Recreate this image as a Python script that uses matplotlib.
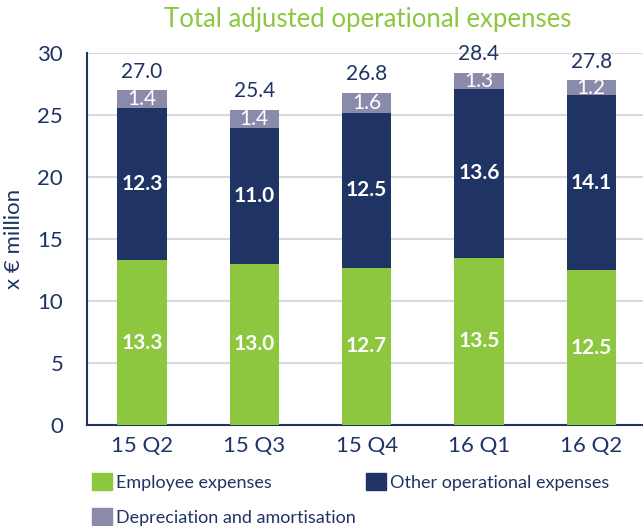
import matplotlib
matplotlib.use("Agg")
import matplotlib.pyplot as plt
from matplotlib.patches import Patch
import numpy as np

plt.rcParams['font.family'] = ['Lato', 'DejaVu Sans']

quarters = ["15 Q2", "15 Q3", "15 Q4", "16 Q1", "16 Q2"]
employee = [13.3, 13.0, 12.7, 13.5, 12.5]
other_opex = [12.3, 11.0, 12.5, 13.6, 14.1]
depreciation = [1.4, 1.4, 1.6, 1.3, 1.2]
totals = [27.0, 25.4, 26.8, 28.4, 27.8]

GREEN = "#8dc63f"
NAVY = "#1f3464"
GREY = "#8a8aaa"
GRID = "#d8d8e0"

fig = plt.figure(figsize=(6.43, 5.26), dpi=100)
ax = fig.add_axes([0.135, 0.192, 0.865, 0.707])

x = np.arange(len(quarters))
w = 0.44
emp = np.array(employee)
oth = np.array(other_opex)
dep = np.array(depreciation)

ax.bar(x, emp, w, color=GREEN, zorder=3)
ax.bar(x, oth, w, bottom=emp, color=NAVY, zorder=3)
ax.bar(x, dep, w, bottom=emp + oth, color=GREY, zorder=3)

for i in range(len(x)):
    ax.text(x[i], emp[i] / 2, f"{emp[i]:.1f}", ha="center", va="center",
            color="white", fontsize=15, fontweight="bold", zorder=4)
    ax.text(x[i], emp[i] + oth[i] / 2, f"{oth[i]:.1f}", ha="center", va="center",
            color="white", fontsize=15, fontweight="bold", zorder=4)
    ax.text(x[i], emp[i] + oth[i] + dep[i] / 2, f"{dep[i]:.1f}", ha="center", va="center",
            color="white", fontsize=15, zorder=4)
    ax.text(x[i], emp[i] + oth[i] + dep[i] + 0.7, f"{totals[i]:.1f}", ha="center", va="bottom",
            color=NAVY, fontsize=15, zorder=4)

ax.set_xlim(-0.49, 4.46)
ax.set_ylim(0, 30)
ax.set_yticks(range(0, 31, 5))
ax.set_xticks(x)
ax.set_xticklabels(quarters)
ax.yaxis.grid(True, color=GRID, linewidth=1.5, zorder=0)
ax.set_axisbelow(True)
for s in ["top", "right"]:
    ax.spines[s].set_visible(False)
for s in ["left", "bottom"]:
    ax.spines[s].set_color(NAVY)
    ax.spines[s].set_linewidth(1.5)
ax.tick_params(axis="both", colors=NAVY, labelsize=16, length=0)
ax.tick_params(axis="x", pad=8)
ax.tick_params(axis="y", pad=17)
ax.set_ylabel("x € million", color=NAVY, fontsize=16, labelpad=10)

fig.text(0.572, 0.962, "Total adjusted operational expenses", ha="center", va="center",
         color=GREEN, fontsize=18.5)

handles = [Patch(color=GREEN, label="Employee expenses"),
           Patch(color=NAVY, label="Other operational expenses")]
fig.legend(handles=handles, loc="upper left", bbox_to_anchor=(0.132, 0.115), ncol=2,
           frameon=False, fontsize=13, labelcolor=NAVY, handlelength=1.1, handleheight=1.1,
           columnspacing=5.2, handletextpad=0.25, borderaxespad=0)
fig.legend(handles=[Patch(color=GREY, label="Depreciation and amortisation")],
           loc="upper left", bbox_to_anchor=(0.132, 0.048), frameon=False, fontsize=13,
           labelcolor=NAVY, handlelength=1.1, handleheight=1.1, handletextpad=0.25,
           borderaxespad=0)

fig.savefig("out.png", dpi=100)
